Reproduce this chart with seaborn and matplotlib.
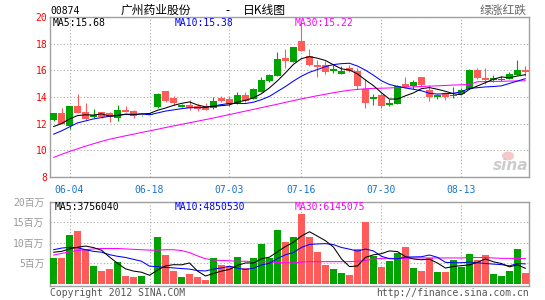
import numpy as np
import pandas as pd
import matplotlib
matplotlib.use("Agg")
import matplotlib.pyplot as plt
import seaborn as sns
from matplotlib.patches import Ellipse

# ---------------- data ----------------
dates = ["05-31", "06-01",
         "06-04", "06-05", "06-06", "06-07", "06-08",
         "06-11", "06-12", "06-13", "06-14", "06-15",
         "06-18", "06-19", "06-20", "06-21", "06-22",
         "06-25", "06-26", "06-27", "06-28", "06-29",
         "07-03", "07-04", "07-05", "07-06",
         "07-09", "07-10", "07-11", "07-12", "07-13",
         "07-16", "07-17", "07-18", "07-19", "07-20",
         "07-23", "07-24", "07-25", "07-26", "07-27",
         "07-30", "07-31", "08-01", "08-02", "08-03",
         "08-06", "08-07", "08-08", "08-09", "08-10",
         "08-13", "08-14", "08-15", "08-16", "08-17",
         "08-20", "08-21", "08-22", "08-23"]

open_ = [12.25, 12.78, 11.78, 13.33, 12.86, 12.48, 12.86, 12.78, 12.40, 13.05,
         12.95, 12.62, 12.65, 13.23, 14.44, 13.90, 13.25, 13.42, 13.30, 13.25,
         13.15, 13.92, 13.85, 13.53, 14.16, 13.86, 14.41, 15.21, 15.59, 16.97,
         16.64, 18.22, 17.12, 16.40, 16.40, 15.95, 15.75, 16.17, 15.95, 14.62,
         13.86, 14.18, 13.40, 13.50, 15.00, 14.86, 15.48, 14.55, 14.00, 14.30,
         14.08, 14.22, 14.62, 16.05, 15.40, 15.30, 15.25, 15.38, 15.68, 16.05]
high = [12.80, 13.20, 13.35, 14.20, 13.58, 13.13, 12.90, 12.85, 13.40, 13.33,
        13.00, 12.68, 12.66, 14.30, 14.47, 14.10, 13.50, 13.80, 13.50, 13.55,
        13.97, 14.10, 14.10, 14.38, 14.40, 14.70, 15.54, 15.75, 17.41, 17.60,
        17.80, 19.60, 17.60, 16.75, 16.70, 16.40, 16.30, 16.42, 16.20, 15.32,
        14.26, 14.27, 13.85, 14.90, 15.53, 15.30, 15.50, 14.88, 14.25, 14.35,
        14.75, 14.65, 16.10, 16.20, 16.20, 15.62, 15.60, 15.85, 16.75, 16.35]
low = [12.20, 11.95, 11.60, 12.80, 12.28, 12.45, 12.45, 12.10, 12.18, 12.85,
       12.45, 12.60, 12.64, 13.20, 13.63, 13.42, 13.22, 13.00, 12.92, 13.00,
       13.12, 13.62, 13.35, 13.48, 13.65, 13.85, 14.40, 15.15, 15.55, 16.20,
       16.60, 17.45, 16.35, 15.52, 15.70, 15.80, 15.72, 15.90, 14.60, 13.15,
       13.38, 13.17, 13.30, 13.45, 14.70, 14.60, 14.85, 13.68, 13.85, 13.80,
       13.90, 14.20, 14.60, 15.35, 14.95, 15.12, 15.20, 15.35, 15.65, 15.55]
close = [12.78, 12.00, 13.33, 12.83, 12.38, 12.65, 12.48, 12.48, 13.03, 12.90,
         12.55, 12.65, 12.65, 14.25, 13.73, 13.55, 13.40, 13.20, 13.10, 13.05,
         13.68, 13.72, 13.48, 14.16, 13.73, 14.59, 15.29, 15.66, 16.84, 16.72,
         17.77, 17.47, 16.40, 16.25, 15.88, 16.10, 15.97, 15.96, 14.80, 13.55,
         13.98, 13.30, 13.58, 14.84, 14.75, 15.10, 14.88, 14.00, 14.17, 13.98,
         14.15, 14.55, 16.05, 15.40, 15.27, 15.45, 15.38, 15.75, 16.05, 15.90]

ma5 = [11.77, 12.00, 12.35, 12.60, 12.66, 12.64, 12.73, 12.56, 12.60, 12.71,
       12.69, 12.72, 12.76, 13.00, 13.17, 13.37, 13.52, 13.63, 13.40, 13.26,
       13.29, 13.35, 13.41, 13.62, 13.75, 13.94, 14.25, 14.69, 15.22, 15.82,
       16.46, 16.89, 17.04, 16.92, 16.75, 16.42, 16.12, 16.03, 15.74, 15.28,
       14.85, 14.32, 13.84, 13.85, 14.09, 14.31, 14.63, 14.71, 14.58, 14.43,
       14.24, 14.17, 14.58, 14.83, 15.08, 15.34, 15.51, 15.45, 15.58, 15.68]
ma10 = [11.20, 11.45, 11.75, 12.05, 12.20, 12.35, 12.45, 12.55, 12.62, 12.69,
        12.66, 12.73, 12.66, 12.80, 12.94, 13.03, 13.12, 13.19, 13.20, 13.21,
        13.33, 13.43, 13.52, 13.51, 13.51, 13.61, 13.80, 14.05, 14.42, 14.79,
        15.20, 15.57, 15.86, 16.07, 16.29, 16.44, 16.51, 16.54, 16.33, 16.02,
        15.64, 15.22, 14.94, 14.80, 14.68, 14.58, 14.47, 14.28, 14.22, 14.26,
        14.28, 14.40, 14.65, 14.70, 14.76, 14.79, 14.84, 15.02, 15.20, 15.38]
ma30 = [9.45, 9.68, 9.90, 10.10, 10.30, 10.48, 10.66, 10.82, 10.95, 11.08,
        11.20, 11.33, 11.45, 11.57, 11.70, 11.82, 11.94, 12.06, 12.18, 12.30,
        12.42, 12.55, 12.68, 12.81, 12.94, 13.07, 13.20, 13.33, 13.46, 13.60,
        13.73, 13.86, 13.98, 14.10, 14.21, 14.32, 14.42, 14.51, 14.57, 14.62,
        14.65, 14.66, 14.68, 14.71, 14.74, 14.76, 14.79, 14.82, 14.84, 14.87,
        14.90, 14.92, 14.94, 15.15, 15.16, 15.17, 15.18, 15.20, 15.21, 15.22]

# volume in millions of shares
volume = [6.2, 6.4, 12.0, 12.8, 8.6, 4.3, 3.2, 3.7, 5.2, 1.8,
          1.6, 1.8, 0.0, 11.5, 6.9, 3.1, 1.6, 2.3, 1.6, 0.9,
          6.2, 4.5, 4.3, 6.6, 3.8, 6.2, 9.6, 6.3, 13.2, 10.1,
          11.5, 17.1, 11.5, 7.8, 4.6, 3.7, 2.7, 2.2, 8.5, 15.1,
          6.8, 4.1, 5.6, 7.6, 9.0, 3.9, 3.2, 6.3, 2.9, 2.9,
          5.9, 4.1, 7.3, 5.9, 7.1, 2.4, 2.0, 3.2, 8.5, 2.7]
vol_ma5 = [7.7, 7.9, 8.5, 8.9, 9.2, 8.82, 8.18, 6.52, 5.0, 3.64,
           3.1, 2.82, 2.08, 3.34, 4.36, 4.66, 4.62, 5.08, 3.1, 1.9,
           2.52, 3.1, 3.5, 4.5, 5.08, 5.08, 6.1, 6.5, 7.82, 9.08,
           10.14, 11.64, 12.68, 11.6, 10.5, 8.94, 6.06, 4.2, 4.34, 6.44,
           7.06, 7.34, 8.02, 7.84, 6.62, 6.04, 5.86, 6.0, 5.06, 3.84,
           4.24, 4.42, 4.62, 5.22, 6.06, 5.36, 4.94, 4.12, 4.64, 3.76]
vol_ma10 = [8.3, 8.7, 8.9, 8.8, 8.3, 7.9, 7.7, 7.1, 6.7, 6.42,
            5.96, 5.5, 4.3, 4.17, 4.0, 3.88, 3.72, 3.58, 3.22, 3.13,
            3.59, 3.86, 4.29, 3.8, 3.49, 3.8, 4.6, 5.0, 6.16, 7.08,
            7.61, 8.87, 9.59, 9.71, 9.79, 9.54, 8.85, 8.44, 7.97, 8.47,
            8.0, 6.7, 6.11, 6.09, 6.53, 6.55, 6.6, 7.01, 6.45, 5.23,
            5.14, 5.14, 5.31, 5.14, 4.95, 4.8, 4.68, 4.37, 4.93, 4.85]
vol_ma30 = [7.0, 7.4, 7.8, 8.1, 8.3, 8.5, 8.6, 8.6, 8.6, 8.5,
            8.4, 8.3, 8.2, 8.2, 8.3, 8.3, 8.1, 7.6, 6.8, 6.1,
            5.8, 5.7, 5.6, 5.5, 5.5, 5.4, 5.4, 5.3, 5.2, 5.1,
            5.1, 5.3, 5.4, 5.4, 5.4, 5.4, 5.4, 5.4, 5.5, 5.7,
            6.0, 6.2, 6.2, 6.2, 6.2, 6.3, 6.3, 6.3, 6.3, 6.3,
            6.3, 6.3, 6.4, 6.4, 6.4, 6.3, 6.2, 6.2, 6.15, 6.15]

price_ticks = [8, 10, 12, 14, 16, 18, 20]
vol_ticks = [5, 10, 15, 20]
vol_tick_labels = ["5百万", "10百万", "15百万", "20百万"]
date_ticks = ["06-04", "06-18", "07-03", "07-16", "07-30", "08-13"]

title_code = "00874"
title_name = "广州药业股份"
title_kind = "日K线图"
legend_note = "绿涨红跌"
price_legend = ["MA5:15.68", "MA10:15.38", "MA30:15.22"]
vol_legend = ["MA5:3756040", "MA10:4850530", "MA30:6145075"]

# ---------------- style ----------------
sns.set_style("white")
MONO = ["DejaVu Sans Mono", "Noto Sans CJK SC"]
CJK = ["Noto Sans CJK SC", "DejaVu Sans"]
plt.rcParams["font.family"] = MONO

GREEN = "#00a400"
RED = "#ff5b5b"
GRID = "#aaaaaa"
FRAME = "#a0a0a0"
LW = 0.75

W, H = 545, 300
fig = plt.figure(figsize=(W / 100, H / 100), dpi=100)
fig.patch.set_facecolor("white")


def rect(x0, y0, x1, y1):
    return [x0 / W, 1 - y1 / H, (x1 - x0) / W, (y1 - y0) / H]


def ftext(x, y, s, **kw):
    fig.text(x / W, 1 - y / H, s, **kw)


ax = fig.add_axes(rect(50, 17.3, 529.3, 176.7))
axv = fig.add_axes(rect(50, 201.7, 529.3, 285.7))

n = len(dates)
x = np.arange(n)
o = np.array(open_)
c = np.array(close)
up = c >= o
cols = np.where(up, GREEN, RED)
date_pos = [dates.index(d) for d in date_ticks]

# ---------------- price panel ----------------
ax.vlines(x, low, high, colors=cols, lw=0.8, zorder=3)
ax.bar(x, np.maximum(np.abs(c - o), 0.04), bottom=np.minimum(o, c), width=0.82,
       color=cols, linewidth=0, zorder=4)
df = pd.DataFrame({"x": x, "ma5": ma5, "ma10": ma10, "ma30": ma30})
sns.lineplot(data=df, x="x", y="ma30", color="#ff00ff", lw=LW, ax=ax, zorder=5)
sns.lineplot(data=df, x="x", y="ma10", color="#0000ff", lw=LW, ax=ax, zorder=6)
sns.lineplot(data=df, x="x", y="ma5", color="#000000", lw=LW, ax=ax, zorder=7)

ax.set_xlim(-0.44, 59.48)
ax.set_ylim(8, 20)
ax.set_yticks(price_ticks)
ax.set_yticklabels([str(t) for t in price_ticks])
ax.set_xticks(date_pos)
ax.set_xticklabels(date_ticks)
ax.tick_params(axis="y", length=0, pad=2, labelsize=7, labelcolor="#ff0000")
ax.tick_params(axis="x", length=0, pad=6, labelsize=7, labelcolor="#1874cd")
ax.set_xlabel("")
ax.set_ylabel("")
ax.grid(True, color=GRID, lw=0.8, ls=(0, (1, 2)))
ax.set_axisbelow(True)
for sp in ax.spines.values():
    sp.set_color(FRAME)
    sp.set_linewidth(1.0)

# ---------------- volume panel ----------------
vdf = pd.DataFrame({"x": x, "vol": volume, "dir": np.where(up, "up", "down")})
sns.barplot(data=vdf, x="x", y="vol", hue="dir", palette={"up": GREEN, "down": RED},
            native_scale=True, dodge=False, width=0.86, errorbar=None, legend=False,
            saturation=1, linewidth=0, ax=axv, zorder=3)
vmdf = pd.DataFrame({"x": x, "m5": vol_ma5, "m10": vol_ma10, "m30": vol_ma30})
sns.lineplot(data=vmdf, x="x", y="m30", color="#ff00ff", lw=LW, ax=axv, zorder=5)
sns.lineplot(data=vmdf, x="x", y="m10", color="#0000ff", lw=LW, ax=axv, zorder=6)
sns.lineplot(data=vmdf, x="x", y="m5", color="#000000", lw=LW, ax=axv, zorder=7)

axv.set_xlim(-0.44, 59.48)
axv.set_ylim(-0.46, 20)
axv.set_yticks(vol_ticks)
axv.set_yticklabels(vol_tick_labels)
axv.set_xticks(date_pos)
axv.set_xticklabels([])
axv.tick_params(axis="y", length=0, pad=4, labelsize=7, labelcolor="#999999")
axv.tick_params(axis="x", length=0)
axv.set_xlabel("")
axv.set_ylabel("")
axv.grid(True, color=GRID, lw=0.8, ls=(0, (1, 2)))
axv.set_axisbelow(True)
for sp in axv.spines.values():
    sp.set_color(FRAME)
    sp.set_linewidth(1.0)

# ---------------- texts ----------------
ftext(50, 11.5, title_code, fontsize=7, color="black", va="center", ha="left")
ftext(121, 10.5, title_name, fontsize=8.5, color="black", va="center", ha="left", family=CJK)
ftext(228, 10.5, "-", fontsize=8.5, color="black", va="center", ha="center", family=CJK)
ftext(242.5, 10.5, title_kind, fontsize=8.5, color="black", va="center", ha="left", family=CJK)
ftext(527, 10.5, legend_note, fontsize=8.5, color="#666666", va="center", ha="right", family=CJK)

for xp, s, col in zip([53, 175, 295], price_legend, ["black", "#0000ff", "#ff00ff"]):
    ftext(xp, 23.5, s, fontsize=7, color=col, va="center", ha="left")
for xp, s, col in zip([54.5, 174.5, 294.5], vol_legend, ["black", "#0000ff", "#ff00ff"]):
    ftext(xp, 206.5, s, fontsize=7, color=col, va="center", ha="left")

ftext(50, 292.5, "Copyright 2012 SINA.COM", fontsize=7, color="#555555", va="center", ha="left")
ftext(529.3, 292.5, "http://finance.sina.com.cn", fontsize=7, color="#555555", va="center", ha="right")

# watermark
fig.patches.append(Ellipse((508 / W, 1 - 156 / H), 12 / W, 9 / H, transform=fig.transFigure,
                           facecolor="#f6c8c8", edgecolor="none", zorder=0))
ftext(511, 165, "sina", fontsize=11, color="#cccccc", va="center", ha="center",
      style="italic", weight="bold", family=["DejaVu Sans"])

fig.savefig("out.png", dpi=100)
